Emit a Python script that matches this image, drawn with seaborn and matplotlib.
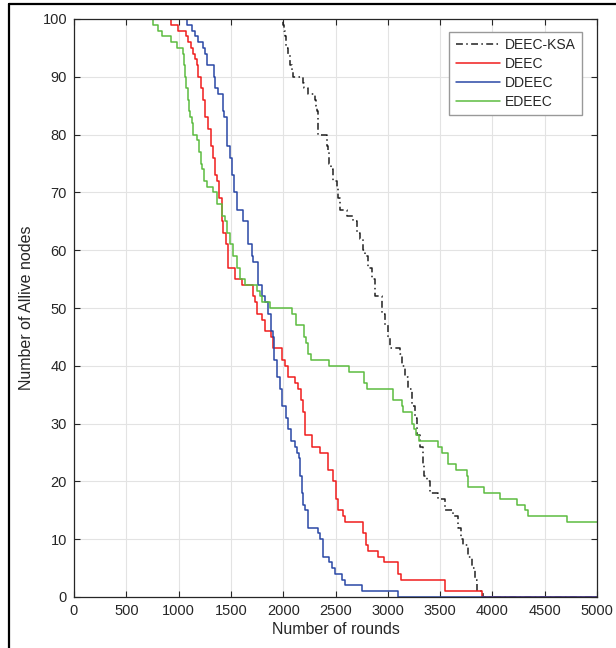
import numpy as np
import pandas as pd
import seaborn as sns
import matplotlib
matplotlib.use("Agg")
import matplotlib.pyplot as plt
from matplotlib.lines import Line2D

# step data: value holds from that round on (steps-post)
ksa_rounds = [0, 2001, 2010, 2017, 2030, 2045, 2065, 2080, 2091, 2186, 2195, 2240, 2304,
              2315, 2325, 2330, 2336, 2416, 2430, 2441, 2455, 2479, 2518, 2525, 2543,
              2607, 2670, 2703, 2734, 2760, 2782, 2814, 2846, 2878, 2941, 2973, 3000,
              3021, 3117, 3140, 3164, 3196, 3228, 3260, 3282, 3308, 3333, 3350, 3372,
              3403, 3483, 3547, 3626, 3674, 3700, 3722, 3770, 3802, 3834, 3850, 3907, 5000]
ksa_alive = [100, 99, 98, 97, 95, 94, 92, 91, 90, 89, 88, 87, 86,
             85, 84, 82, 80, 78, 77, 75, 74, 72, 71, 69, 67,
             66, 65, 63, 62, 60, 59, 57, 55, 52, 49, 47, 45,
             43, 42, 40, 38, 36, 33, 31, 28, 26, 23, 21, 20,
             18, 17, 15, 14, 12, 10, 9, 7, 5, 3, 1, 0, 0]

deec_rounds = [0, 927, 997, 1071, 1093, 1119, 1141, 1157, 1173, 1189, 1211, 1230, 1252,
               1284, 1307, 1326, 1348, 1370, 1389, 1412, 1428, 1450, 1469, 1539, 1603,
               1708, 1730, 1750, 1794, 1826, 1880, 1906, 1985, 2017, 2049, 2113, 2144,
               2170, 2192, 2208, 2272, 2352, 2431, 2480, 2502, 2527, 2575, 2591, 2766,
               2792, 2814, 2909, 2964, 3100, 3123, 3547, 3905, 5000]
deec_alive = [100, 99, 98, 97, 96, 95, 94, 93, 92, 90, 88, 86, 83,
              81, 78, 76, 73, 72, 69, 65, 63, 61, 57, 55, 54,
              52, 51, 49, 48, 46, 45, 43, 41, 40, 38, 37, 36,
              34, 32, 28, 26, 25, 22, 20, 17, 15, 14, 13, 11,
              9, 8, 7, 6, 4, 3, 1, 0, 0]

ddeec_rounds = [0, 1077, 1125, 1157, 1189, 1236, 1252, 1269, 1338, 1348, 1380, 1428, 1437,
                1460, 1491, 1507, 1530, 1555, 1619, 1667, 1699, 1714, 1762, 1794, 1826,
                1857, 1880, 1899, 1915, 1937, 1969, 1985, 2027, 2049, 2075, 2113, 2129,
                2154, 2165, 2177, 2192, 2208, 2234, 2330, 2352, 2378, 2441, 2464, 2495,
                2559, 2591, 2750, 3100, 5000]
ddeec_alive = [100, 99, 98, 97, 96, 95, 94, 92, 90, 88, 87, 84, 83,
               78, 76, 73, 70, 67, 65, 61, 59, 58, 54, 52, 51,
               49, 46, 45, 41, 38, 36, 33, 31, 29, 27, 26, 25,
               24, 21, 18, 16, 15, 12, 11, 10, 7, 6, 5, 4,
               3, 2, 1, 0, 0]

edeec_rounds = [0, 758, 800, 838, 927, 988, 1039, 1050, 1061, 1072, 1087, 1100, 1109,
                1125, 1141, 1173, 1198, 1210, 1221, 1243, 1269, 1332, 1364, 1418, 1440,
                1460, 1491, 1523, 1555, 1587, 1635, 1746, 1778, 1794, 1874, 2087, 2120,
                2199, 2215, 2235, 2263, 2441, 2632, 2772, 2798, 3053, 3140, 3148, 3228,
                3250, 3270, 3301, 3483, 3515, 3579, 3652, 3754, 3770, 3923, 4073, 4232,
                4312, 4340, 4716, 5000]
edeec_alive = [100, 99, 98, 97, 96, 95, 94, 92, 90, 88, 86, 84, 83,
               82, 80, 79, 77, 75, 74, 72, 71, 70, 68, 66, 65,
               63, 61, 59, 57, 55, 54, 53, 52, 51, 50, 49, 47,
               45, 44, 42, 41, 40, 39, 37, 36, 34, 33, 32, 30,
               29, 28, 27, 26, 25, 23, 22, 21, 19, 18, 17, 16,
               15, 14, 13, 13]

x_ticks = list(range(0, 5001, 500))
y_ticks = list(range(0, 101, 10))

sns.set_theme(style="ticks")
plt.rcParams['font.family'] = ['Liberation Sans', 'DejaVu Sans']

fig = plt.figure(figsize=(6.16, 6.48), dpi=100)
ax = fig.add_axes([74 / 616, 1 - 597 / 648, 523 / 616, 578 / 648])

series = [
    ("DEEC-KSA", ksa_rounds, ksa_alive, "#202020", (0, (4.5, 2.2, 1, 2.2))),
    ("DEEC", deec_rounds, deec_alive, "#f01c1c", "-"),
    ("DDEEC", ddeec_rounds, ddeec_alive, "#2a48a6", "-"),
    ("EDEEC", edeec_rounds, edeec_alive, "#5cbc40", "-"),
]
for name, xs, ys, col, ls in series:
    df = pd.DataFrame({"round": xs, "alive": ys})
    sns.lineplot(data=df, x="round", y="alive", ax=ax, color=col, linestyle=ls,
                 linewidth=1.1, drawstyle="steps-post", estimator=None, sort=False,
                 label=name)

ax.set_xlim(0, 5000)
ax.set_ylim(0, 100)
ax.set_xticks(x_ticks)
ax.set_yticks(y_ticks)
ax.grid(True, color="#e3e3e3", linewidth=0.8)
ax.set_axisbelow(True)
ax.tick_params(direction="in", length=4.5, width=0.8, top=True, right=True,
               labelsize=10.5, colors="#262626", pad=5)
ax.tick_params(axis="both", labelcolor="#262626")
for sp in ax.spines.values():
    sp.set_color("#262626")
    sp.set_linewidth(0.9)

ax.set_xlabel("Number of rounds", fontsize=11.5, color="#262626", labelpad=3)
ax.set_ylabel("Number of Allive nodes", fontsize=11.5, color="#262626", labelpad=6)

leg = ax.legend(loc="upper right", bbox_to_anchor=(0.9713, 0.9775), borderaxespad=0,
                fontsize=10, frameon=True, fancybox=False, framealpha=1,
                edgecolor="#999999", handlelength=3.2, handletextpad=0.35,
                labelspacing=0.35, borderpad=0.45)
leg.get_frame().set_linewidth(1.0)
for t in leg.get_texts():
    t.set_color("#262626")

# black frame of the cropped figure
fig.add_artist(Line2D([9 / 616, 1], [1 - 4 / 648, 1 - 4 / 648], transform=fig.transFigure,
                      color="black", linewidth=1.6))
fig.add_artist(Line2D([9 / 616, 9 / 616], [0, 1 - 4 / 648], transform=fig.transFigure,
                      color="black", linewidth=1.6))

fig.savefig("out.png", dpi=100)
